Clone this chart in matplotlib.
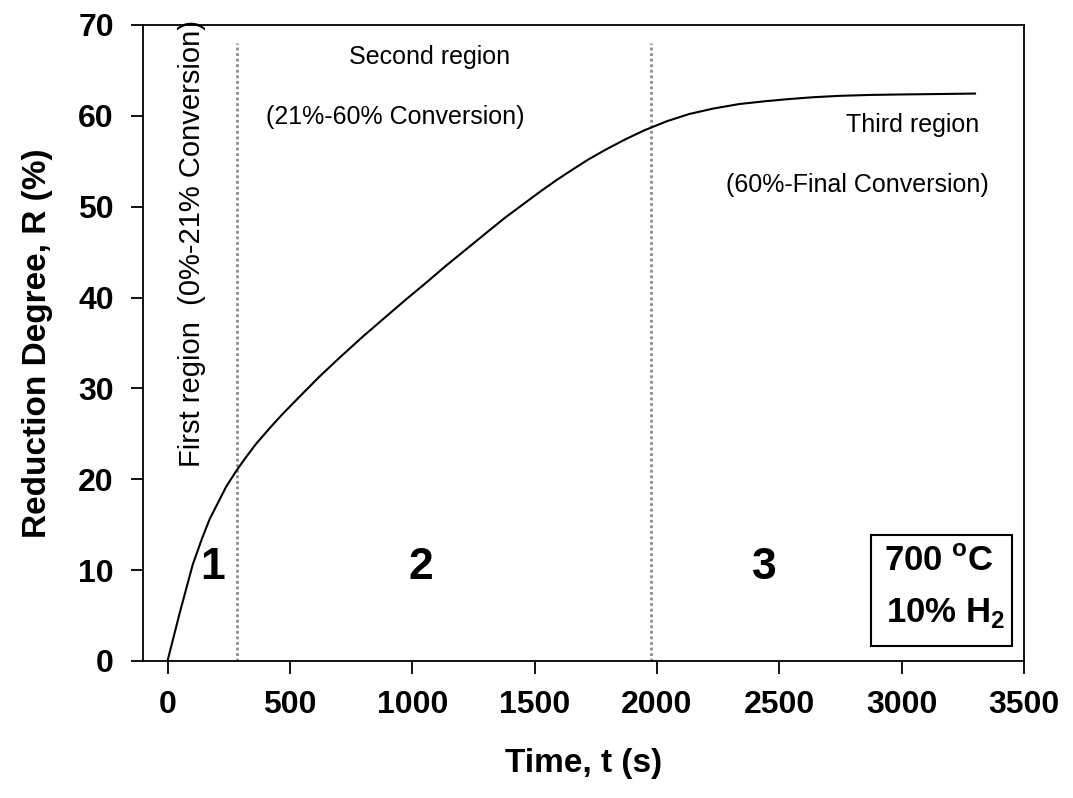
import matplotlib
matplotlib.use('Agg')
import matplotlib.pyplot as plt
from matplotlib.patches import Rectangle

plt.rcParams['font.family'] = 'Liberation Sans'
plt.rcParams['mathtext.fontset'] = 'custom'
plt.rcParams['mathtext.rm'] = 'Liberation Sans'
plt.rcParams['mathtext.bf'] = 'Liberation Sans:bold'

# reduction curve
time_s = [0, 50, 103, 140, 172, 240, 283, 320, 362, 420, 471, 540, 621, 700,
          798, 880, 975, 1060, 1138, 1220, 1302, 1380, 1465, 1520, 1588, 1656,
          1720, 1792, 1870, 1948, 2040, 2132, 2230, 2337, 2440, 2541, 2640,
          2745, 2870, 2990, 3150, 3300]
reduction = [0, 5.3, 10.6, 13.4, 15.6, 19.2, 21.0, 22.4, 23.9, 25.7, 27.2,
             29.1, 31.3, 33.3, 35.7, 37.6, 39.8, 41.7, 43.5, 45.3, 47.1, 48.8,
             50.5, 51.6, 52.9, 54.1, 55.2, 56.3, 57.4, 58.4, 59.4, 60.2, 60.8,
             61.3, 61.6, 61.85, 62.05, 62.2, 62.3, 62.35, 62.4, 62.45]

region_bounds = [286, 1977]
region_numbers = ['1', '2', '3']
region_number_x = [184, 1034, 2439]

xticks = [0, 500, 1000, 1500, 2000, 2500, 3000, 3500]
yticks = [0, 10, 20, 30, 40, 50, 60, 70]

fig = plt.figure(figsize=(10.73, 7.98), dpi=100)
ax = fig.add_axes([0.1333, 0.1717, 0.821, 0.797])

ax.plot(time_s, reduction, color='black', lw=1.5, zorder=3)

for xb in region_bounds:
    ax.plot([xb, xb], [0, 68], color='#8c8c8c', lw=2, linestyle=(0, (1, 1)), zorder=2)

ax.text(102, 46, 'First region  (0%-21% Conversion)', rotation=90,
        ha='center', va='center', fontsize=21)
ax.text(1070, 66.5, 'Second region', ha='center', va='center', fontsize=18)
ax.text(931, 59.9, '(21%-60% Conversion)', ha='center', va='center', fontsize=18)
ax.text(3047, 59.0, 'Third region', ha='center', va='center', fontsize=18)
ax.text(2819, 52.4, '(60%-Final Conversion)', ha='center', va='center', fontsize=18)

for lab, xn in zip(region_numbers, region_number_x):
    ax.text(xn, 10.3, lab, ha='center', va='center', fontsize=32, fontweight='bold')

ax.add_patch(Rectangle((2876, 1.65), 576, 12.25, fill=False, edgecolor='black',
                       lw=1.5, zorder=4))
ax.text(3154, 10.9, r'700 $^{\mathbf{o}}$C', ha='center', va='center',
        fontsize=25, fontweight='bold')
ax.text(3180, 5.3, r'10% H$_{\mathbf{2}}$', ha='center', va='center',
        fontsize=25, fontweight='bold')

ax.set_xlim(-100, 3500)
ax.set_ylim(0, 70)
ax.set_xticks(xticks)
ax.set_yticks(yticks)
ax.tick_params(direction='out', length=9, width=1.3, pad=12, labelsize=23)
for lab in ax.get_xticklabels() + ax.get_yticklabels():
    lab.set_fontweight('bold')
for sp in ax.spines.values():
    sp.set_linewidth(1.3)

ax.set_xlabel('Time, t (s)', fontsize=24, fontweight='bold', labelpad=20)
ax.set_ylabel('Reduction Degree, R (%)', fontsize=24, fontweight='bold', labelpad=18)

fig.savefig('out.png', dpi=100)
